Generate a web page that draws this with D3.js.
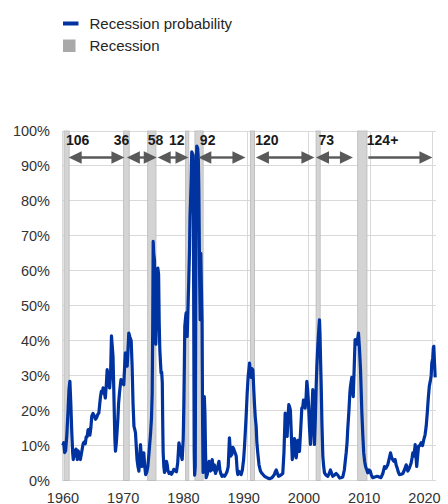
<!DOCTYPE html>
<html><head><meta charset="utf-8">
<script src="https://cdn.jsdelivr.net/npm/d3@7"></script>
<style>body{margin:0;background:#fff}svg{display:block;font-family:"Liberation Sans",Arial,sans-serif}</style>
</head><body><svg id="c" width="448" height="504"></svg>
<script>
// ---- data ----
const probYears = [1960.05,1960.2,1960.35,1960.5,1960.7,1960.9,1961.05,1961.2,1961.35,1961.5,1961.65,1961.75,1961.9,1962.05,1962.2,1962.4,1962.55,1962.7,1962.9,1963.05,1963.2,1963.35,1963.5,1963.7,1963.85,1964.0,1964.15,1964.3,1964.45,1964.6,1964.75,1964.95,1965.15,1965.35,1965.55,1965.75,1965.9,1966.05,1966.17,1966.3,1966.45,1966.6,1966.75,1966.95,1967.1,1967.25,1967.4,1967.5,1967.65,1967.8,1967.95,1968.05,1968.2,1968.3,1968.4,1968.5,1968.6,1968.75,1968.88,1969.0,1969.1,1969.25,1969.4,1969.5,1969.7,1969.95,1970.1,1970.2,1970.35,1970.5,1970.65,1970.76,1970.95,1971.15,1971.3,1971.45,1971.6,1971.75,1971.85,1972.0,1972.1,1972.25,1972.4,1972.55,1972.66,1972.8,1972.9,1973.05,1973.2,1973.35,1973.5,1973.7,1973.85,1974.05,1974.3,1974.45,1974.56,1974.65,1974.72,1974.8,1974.94,1975.05,1975.15,1975.3,1975.4,1975.47,1975.6,1975.7,1975.8,1975.9,1976.0,1976.1,1976.2,1976.28,1976.34,1976.45,1976.56,1976.7,1976.88,1977.0,1977.1,1977.3,1977.5,1977.7,1977.9,1978.07,1978.3,1978.5,1978.7,1978.9,1979.05,1979.16,1979.3,1979.43,1979.6,1979.7,1979.78,1979.85,1980.0,1980.08,1980.24,1980.35,1980.5,1980.62,1980.7,1980.78,1980.88,1980.98,1981.1,1981.22,1981.3,1981.38,1981.45,1981.55,1981.62,1981.7,1981.8,1981.95,1982.05,1982.13,1982.25,1982.35,1982.45,1982.55,1982.65,1982.75,1982.82,1982.92,1983.02,1983.12,1983.22,1983.32,1983.5,1983.65,1983.8,1984.0,1984.15,1984.3,1984.5,1984.65,1984.84,1985.0,1985.2,1985.4,1985.55,1985.7,1985.9,1986.1,1986.3,1986.46,1986.7,1986.9,1987.1,1987.3,1987.5,1987.65,1987.8,1988.0,1988.2,1988.35,1988.46,1988.7,1989.0,1989.2,1989.4,1989.55,1989.8,1989.98,1990.15,1990.36,1990.5,1990.63,1990.75,1990.9,1991.05,1991.17,1991.3,1991.44,1991.55,1991.7,1991.9,1992.14,1992.4,1992.8,1993.2,1993.6,1994.0,1994.4,1994.55,1994.7,1994.9,1995.06,1995.4,1995.76,1995.95,1996.15,1996.3,1996.47,1996.6,1996.74,1996.88,1997.0,1997.15,1997.3,1997.5,1997.66,1997.8,1997.94,1998.1,1998.2,1998.35,1998.47,1998.65,1998.85,1999.0,1999.12,1999.25,1999.4,1999.55,1999.66,1999.8,1999.94,2000.1,2000.26,2000.45,2000.63,2000.75,2000.9,2001.05,2001.18,2001.3,2001.44,2001.6,2001.72,2001.8,2001.9,2002.0,2002.12,2002.26,2002.4,2002.53,2002.8,2003.07,2003.3,2003.5,2003.7,2003.88,2004.1,2004.43,2004.7,2004.97,2005.2,2005.5,2005.75,2006.05,2006.2,2006.3,2006.5,2006.65,2006.75,2006.96,2007.08,2007.2,2007.35,2007.5,2007.65,2007.8,2007.95,2008.05,2008.2,2008.38,2008.5,2008.6,2008.75,2008.9,2009.05,2009.2,2009.4,2009.56,2009.75,2009.95,2010.15,2010.37,2010.7,2011.1,2011.4,2011.7,2012.0,2012.27,2012.5,2012.8,2013.0,2013.25,2013.45,2013.6,2013.8,2014.0,2014.15,2014.33,2014.5,2014.7,2015.0,2015.25,2015.5,2015.8,2016.06,2016.3,2016.6,2016.75,2016.87,2017.05,2017.26,2017.38,2017.5,2017.65,2017.8,2018.0,2018.23,2018.45,2018.65,2018.85,2019.04,2019.2,2019.4,2019.55,2019.74,2019.85,2019.95,2020.1,2020.2,2020.28,2020.38,2020.5];
const probValues = [10,10.8,8,8.5,13,20,26,28.4,22,14,8,6,8.5,7,9,6,8.5,7,6,7.5,9,10.5,11,10.5,12.5,12.5,14.5,14.6,13,15,18.4,19.2,18.5,17.5,18,19,19.3,22,24,25.5,25,26.5,25.5,23.6,27,31.7,30,28,26.5,30,41.4,39,35.5,28,20,12,8.4,11,14.6,18,22,25,27.5,28.9,28,27.4,33,36.5,34,32.7,38,42.2,41,40,32.7,22,15.5,14.5,13.6,9,6,4,2.7,7,10.3,7,4,5.5,7.9,4,1.7,2.5,4,8,13.6,18,25,45,68.4,65,63,46,39,50,55,60.8,59,45,37.4,34,30.8,31,28,15,8,4,2.3,3,5.5,4.5,3,2,2.3,1.8,2.5,3.2,2.8,2.5,5,10.8,9.5,8,7,6,12,22,33,44,47,48,41.2,48,57.4,66,75.5,79.4,86,94,93.5,93,50,8,1.5,4,45,88,95.7,95,92,84,60,46,65,55,46,15,2.3,10,24,19.5,8,0.8,1.7,4,5.5,2.7,3,6,3,4.5,2,3,4,5.5,3,2,1.2,1.5,1.2,1.6,2.5,4,12.2,7,7.5,9.5,9,8,7,3,1.7,2.5,1.7,3,6,9.8,18,25,30,33.6,31,29.5,32,31.7,26,21.7,18,15.5,11,7.9,4.5,2.7,2,1.2,0.8,0.5,0.8,1.7,2.5,3,2,1.2,1.5,2,8,19.3,14,12.6,18,21.7,21,20,13,6,8,12,9,6.5,9,11.5,10,8.3,14,20.7,21,23,22,20.7,24,28.4,26,21.7,15,10.3,18,26,18,10.3,18,27,33,38.4,43,46,42,34,27,16,7,4,2.2,1.5,1.2,2,3,2,1.2,1.5,2,1.5,0.7,0.8,1,3,7.9,11,14.6,20,25,27,29.5,26,24,32,40.3,39.5,39,41,42.2,38,31.7,25,19.3,13,7.9,5.5,4,3,2.2,3,2.7,1.5,0.8,1,1.2,1,0.8,2,4,3.5,4.5,6,7.9,6.5,6,5.5,6,4.5,3.6,2.5,1.7,1.8,2,3,4.5,2.7,3.5,5,6.5,7.9,7,10.3,7,4,7,9.8,10,10.8,10,11.7,13,15.5,19,24,27,28.8,30,33.6,35,37.9,38.4,34,29.5];
const recessionStarts = [1960.25,1969.92,1973.83,1980.0,1981.5,1990.5,2001.17,2007.92];
const recessionEnds   = [1961.08,1970.83,1975.17,1980.5,1982.83,1991.17,2001.83,2009.42];
const arrowStarts = [1961.0,1970.45,1975.45,1982.05,1991.4,2001.15,2009.65];
const arrowEnds   = [1970.05,1975.3,1980.45,1989.7,2000.9,2007.15,2020.05];
const arrowLeftHead = [true,true,true,true,true,true,false];
const expansionLabels = ["106","36","58","12","92","120","73","124+"];
const expansionLabelYears = [1960.55,1968.3,1973.85,1977.3,1982.3,1991.3,2001.55,2009.4];
const yTicks = [0,10,20,30,40,50,60,70,80,90,100];
const xTickYears = [1960,1970,1980,1990,2000,2010,2020];
const legendItems = ["Recession probability","Recession"];

// ---- layout ----
const svg = d3.select("#c");
const x = d3.scaleLinear().domain([1960, 2020.6]).range([62.5, 62.5 + 60.6*6.16]);
const xLabel = d3.scaleLinear().domain([1960, 2020]).range([63, 424.5]);
const y = d3.scaleLinear().domain([0, 100]).range([480.5, 131]);
const x0 = x.range()[0], x1 = x.range()[1];
const BLUE = "#0033a0", ARROW = "#595959", GRID = "#d9d9d9", TXT = "#333";

// gridlines
svg.append("g").selectAll("line").data(yTicks).join("line")
  .attr("x1", x0).attr("x2", x1).attr("y1", d=>y(d)).attr("y2", d=>y(d))
  .attr("stroke", GRID).attr("stroke-width", 1).attr("shape-rendering","crispEdges");
svg.append("g").selectAll("line").data(xTickYears).join("line")
  .attr("x1", d=>x(d)).attr("x2", d=>x(d)).attr("y1", y(0)).attr("y2", y(100))
  .attr("stroke", GRID).attr("stroke-width", 1).attr("shape-rendering","crispEdges");

// recession bars
svg.append("g").selectAll("rect").data(recessionStarts).join("rect")
  .attr("x", d=>x(d)).attr("width", (d,i)=>x(recessionEnds[i])-x(d))
  .attr("y", y(100)).attr("height", y(0)-y(100))
  .attr("fill", "#d4d4d4").attr("stroke", "#bdbdbd").attr("stroke-width", 0.9);

// probability line
const pts = probYears.map((t,i)=>[t, probValues[i]]);
svg.append("path").datum(pts)
  .attr("d", d3.line().x(d=>x(d[0])).y(d=>y(d[1])))
  .attr("fill","none").attr("stroke", BLUE).attr("stroke-width", 3.2)
  .attr("stroke-linejoin","round");

// arrows
const ay = 157.5, hl = 13, hh = 6.2;
const ag = svg.append("g");
arrowStarts.forEach((s,i)=>{
  const a = x(s), b = x(arrowEnds[i]);
  const sa = arrowLeftHead[i] ? a + hl - 1 : a;
  ag.append("line").attr("x1", sa).attr("x2", b - hl + 1).attr("y1", ay).attr("y2", ay)
    .attr("stroke", ARROW).attr("stroke-width", 2.4);
  ag.append("path").attr("d", `M${b},${ay} L${b-hl},${ay-hh} L${b-hl},${ay+hh} Z`).attr("fill", ARROW);
  if (arrowLeftHead[i])
    ag.append("path").attr("d", `M${a},${ay} L${a+hl},${ay-hh} L${a+hl},${ay+hh} Z`).attr("fill", ARROW);
});
svg.append("g").selectAll("text").data(expansionLabels).join("text")
  .attr("x", (d,i)=>x(expansionLabelYears[i])).attr("y", 144.5)
  .attr("font-size", 14).attr("font-weight", "bold").attr("fill", "#1a1a1a")
  .text(d=>d);

// axes labels
svg.append("g").selectAll("text").data(yTicks).join("text")
  .attr("x", 50).attr("y", d=>y(d)).attr("dy","0.35em").attr("text-anchor","end")
  .attr("font-size", 14.5).attr("fill", TXT).text(d=>d+"%");
svg.append("g").selectAll("text").data(xTickYears).join("text")
  .attr("x", d=>xLabel(d)).attr("y", 502.5).attr("text-anchor","middle")
  .attr("font-size", 14.5).attr("fill", TXT).text(d=>d);

// legend
const lg = svg.append("g");
lg.append("line").attr("x1",63).attr("x2",78.5).attr("y1",23.5).attr("y2",23.5)
  .attr("stroke", BLUE).attr("stroke-width", 4);
lg.append("rect").attr("x",63).attr("y",39.5).attr("width",12.5).attr("height",12.5).attr("fill","#a9a9a9");
lg.selectAll("text").data(legendItems).join("text")
  .attr("x", 89.5).attr("y",(d,i)=>i===0?29.3:50.7)
  .attr("font-size", 15).attr("fill", "#262626").text(d=>d);
</script></body></html>
